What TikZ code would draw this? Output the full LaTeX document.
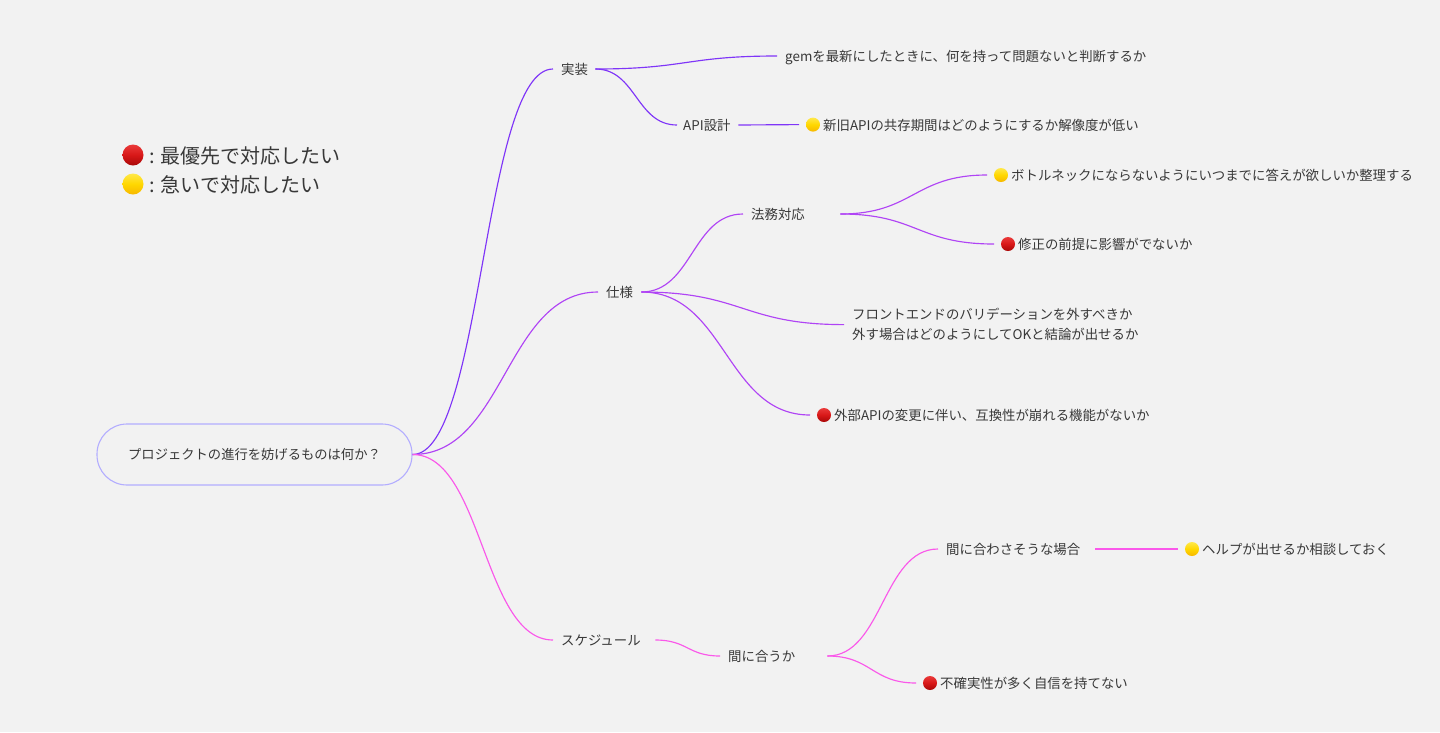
\documentclass[tikz,border=0pt]{standalone}
\usepackage{fontspec}
\usetikzlibrary{calc}
\setmainfont{Noto Sans CJK JP}
\definecolor{bg}{HTML}{F2F2F2}
\definecolor{ink}{HTML}{383838}
\definecolor{rootline}{HTML}{B3ADFF}
\definecolor{cA}{HTML}{7F35F8}
\definecolor{cB}{HTML}{B044F5}
\definecolor{cC}{HTML}{FA58EA}
\definecolor{rA}{HTML}{EA3A3A}
\definecolor{rB}{HTML}{D81818}
\definecolor{rC}{HTML}{A80808}
\definecolor{yA}{HTML}{FFE84A}
\definecolor{yB}{HTML}{FFD700}
\definecolor{yC}{HTML}{F7B800}
\tikzset{
  txbase/.style={anchor=west,inner ysep=0pt,inner xsep=8pt,text=ink,text width=#1-16pt,align=left,
    font=\fontsize{13.4}{20}\selectfont},
  tx/.style={txbase=#1,text height=11pt,text depth=1pt},
  leaf/.style={anchor=west,inner sep=0pt,text=ink,text height=11pt,text depth=1pt,font=\fontsize{13.4}{20}\selectfont},
  emo/.style={circle,minimum size=14pt,inner sep=0pt,outer sep=7pt},
  emobig/.style={circle,minimum size=21pt,inner sep=0pt},
  redball/.style={path picture={\shade[top color=rA,bottom color=rC,middle color=rB] (path picture bounding box.south west) rectangle (path picture bounding box.north east);}},
  yelball/.style={path picture={\shade[top color=yA,bottom color=yC,middle color=yB] (path picture bounding box.south west) rectangle (path picture bounding box.north east);}},
  legend/.style={anchor=west,inner sep=0pt,text=ink,text height=18pt,text depth=2pt,font=\fontsize{20}{24}\selectfont},
  rootbox/.style={draw=rootline,line width=1.1pt,rounded corners=30pt,minimum width=315pt,minimum height=61pt,inner sep=0pt,text=ink,font=\fontsize{13.3}{20}\selectfont},
  conn/.style={line width=1.15pt,draw=#1},
}
\newcommand{\curve}[3]{\draw[conn=#3] let \p1=(#1),\p2=(#2),\n1={(\x2-\x1)*0.5} in (\p1) .. controls ({\x1+\n1},\y1) and ({\x2-\n1},\y2) .. (\p2);}
\begin{document}
\begin{tikzpicture}[x=1pt,y=-1pt]
\path[fill=bg] (0,0) rectangle (1440,732);
\useasboundingbox (0,0) rectangle (1440,732);

% legend
\node[emobig,redball] (lr) at (133,155) {};
\node[legend] (lrt) at (149,155) {: 最優先で対応したい};
\node[emobig,yelball] (ly) at (133,184) {};
\node[legend] (lyt) at (149,184) {: 急いで対応したい};

% root
\node[rootbox] (root) at (254.5,454.5) {プロジェクトの進行を妨げるものは何か？};

% nodes
\node[tx=42pt] (impl) at (553,69) {実装};
\node[tx=61pt] (api) at (677,125) {\hspace*{-2pt}API設計};
\node[tx=378pt] (gem) at (777,56) {gemを最新にしたときに、何を持って問題ないと判断するか};
\node[emo,yelball] (e1) at (813,124.6) {};
\node[leaf] (t1) at (823,125) {新旧APIの共存期間はどのようにするか解像度が低い};

\node[tx=43pt] (spec) at (598,292) {仕様};
\node[tx=97pt] (legal) at (743,214) {法務対応};
\node[emo,yelball] (e2) at (1001,175) {};
\node[leaf] (t2) at (1011,175) {ボトルネックにならないようにいつまでに答えが欲しいか整理する};
\node[emo,redball] (e3) at (1008,244) {};
\node[leaf] (t3) at (1018,244) {修正の前提に影響がでないか};
\node[txbase=310pt] (front) at (844,324.6) {フロントエンドのバリデーションを外すべきか\\外す場合はどのようにしてOKと結論が出せるか};
\node[emo,redball] (e4) at (824,415) {};
\node[leaf] (t4) at (834,415) {外部APIの変更に伴い、互換性が崩れる機能がないか};

\node[tx=102pt] (sched) at (553,640) {スケジュール};
\node[tx=107pt] (ontime) at (720,656) {間に合うか};
\node[tx=157pt] (can) at (938,549) {間に合わさそうな場合};
\node[emo,yelball] (e5) at (1192,549) {};
\node[leaf] (t5) at (1202,549) {ヘルプが出せるか相談しておく};
\node[emo,redball] (e6) at (930,683) {};
\node[leaf] (t6) at (940,683) {不確実性が多く自信を持てない};

% connectors
\curve{root.east}{impl.west}{cA}
\curve{impl.east}{gem.west}{cA}
\curve{impl.east}{api.west}{cA}
\curve{api.east}{e1.west}{cA}
\curve{root.east}{spec.west}{cB}
\curve{spec.east}{legal.west}{cB}
\curve{legal.east}{e2.west}{cB}
\curve{legal.east}{e3.west}{cB}
\curve{spec.east}{front.west}{cB}
\curve{spec.east}{e4.west}{cB}
\curve{root.east}{sched.west}{cC}
\curve{sched.east}{ontime.west}{cC}
\curve{ontime.east}{can.west}{cC}
\curve{can.east}{e5.west}{cC}
\curve{ontime.east}{e6.west}{cC}
\end{tikzpicture}
\end{document}
